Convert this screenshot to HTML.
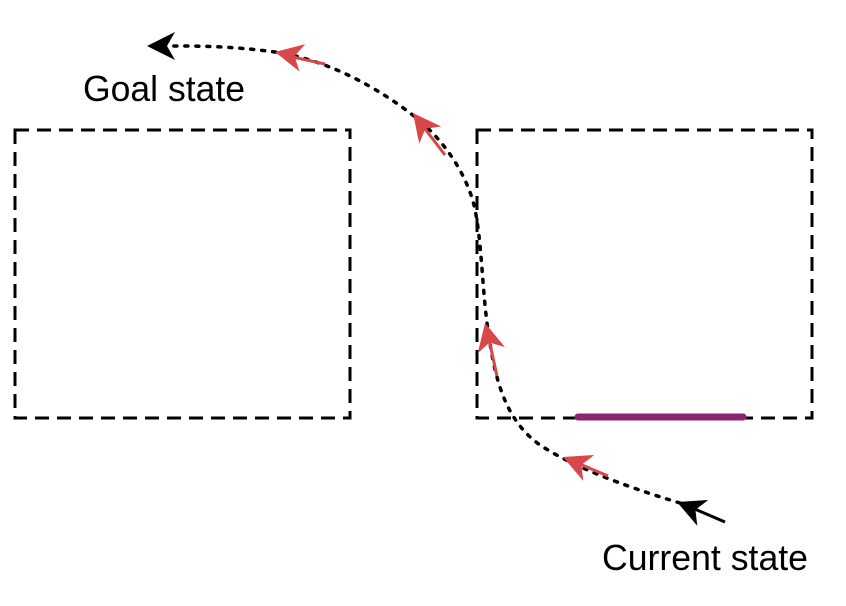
<!DOCTYPE html>
<html><head><meta charset="utf-8"><style>body{margin:0;background:#fff}svg{display:block}</style></head>
<body>
<svg width="846" height="606" viewBox="0 0 846 606" font-family="Liberation Sans, sans-serif">
<defs>
<g id="ah"><polygon points="0,0 -28,-14 -20,0 -28,14"/></g>
</defs>
<rect x="15" y="130" width="335" height="288" fill="none" stroke="#000" stroke-width="3" stroke-dasharray="14,8"/>
<rect x="477" y="130" width="335" height="288" fill="none" stroke="#000" stroke-width="3" stroke-dasharray="14,8"/>
<line x1="578" y1="417" x2="743" y2="417" stroke="#8b2372" stroke-width="7" stroke-linecap="round"/>
<path d="M680,503 C620,485 570,465 540,445 C505,420 495,380 488,330 C482,290 482,240 474,205 C465,170 440,135 410,113 C380,90 330,60 275,52 C230,46 200,46 170,46" fill="none" stroke="#000" stroke-width="3.5" stroke-dasharray="3,8" stroke-linecap="round"/>
<g fill="#d94848" stroke="#d94848">
<line x1="608" y1="476" x2="575" y2="462" stroke-width="3"/>
<use href="#ah" transform="translate(563,457) rotate(203) scale(-1,1) rotate(180)" stroke="none"/>
</g>
<g fill="#d94848" stroke="#d94848">
<line x1="497" y1="376" x2="488" y2="335" stroke-width="3"/>
<use href="#ah" transform="translate(485,323) rotate(-103)" stroke="none"/>
</g>
<g fill="#d94848" stroke="#d94848">
<line x1="445" y1="155" x2="422" y2="125" stroke-width="3"/>
<use href="#ah" transform="translate(413,113) rotate(-128)" stroke="none"/>
</g>
<g fill="#d94848" stroke="#d94848">
<line x1="325" y1="64" x2="288" y2="56" stroke-width="3"/>
<use href="#ah" transform="translate(275,52) rotate(-168)" stroke="none"/>
</g>
<g fill="#000">
<use href="#ah" transform="translate(147,46) rotate(180)"/>
</g>
<g fill="#000" stroke="#000">
<line x1="725" y1="522" x2="690" y2="507" stroke-width="3"/>
<use href="#ah" transform="translate(677,502) rotate(-157)" stroke="none"/>
</g>
<text x="83" y="101" font-size="36" textLength="162" lengthAdjust="spacingAndGlyphs">Goal state</text>
<text x="602" y="570" font-size="36" textLength="206" lengthAdjust="spacingAndGlyphs">Current state</text>
</svg>
</body></html>
